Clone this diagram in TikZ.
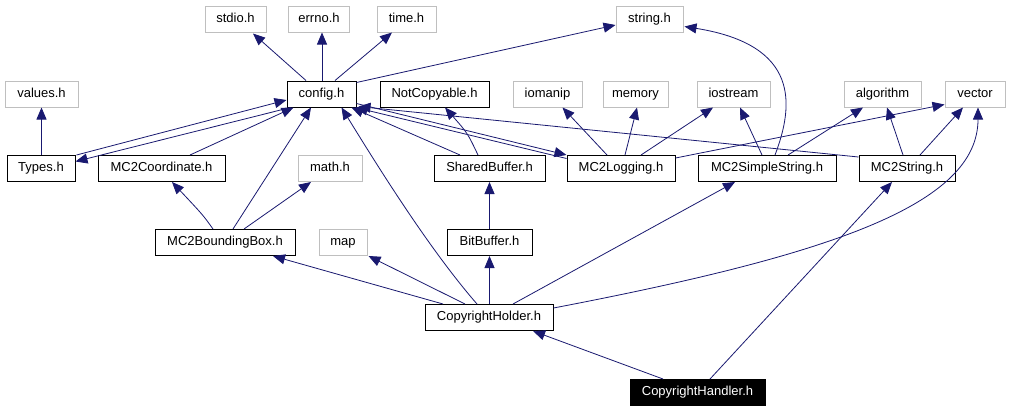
\documentclass[tikz,border=0pt]{standalone}
\usepackage{fontspec}
\setmainfont{Liberation Sans}
\usetikzlibrary{arrows.meta,calc}
\newdimen\px \px=0.75pt
\definecolor{edgec}{RGB}{25,25,112}
\definecolor{grayb}{RGB}{191,191,191}
\tikzset{
  box/.style={draw=black, line width=0.75pt, minimum height=26\px, inner sep=0pt,
    text height=7pt, text depth=2pt, font=\fontsize{9.75}{11}\selectfont},
  gbox/.style={box, draw=grayb},
  hbox/.style={box, fill=black, text=white},
  dep/.style={draw=edgec, line width=0.6pt, -{Triangle[length=9pt,width=7.5pt]}}
}
\begin{document}
\begin{tikzpicture}[x=0.75pt,y=-0.75pt]
\fill[white] (0,0) rectangle (1009,411);
\useasboundingbox (0,0) rectangle (1009,411);
% row 1
\node[gbox, minimum width=61\px] (stdio) at (235.5,19) {stdio.h};
\node[gbox, minimum width=61\px] (errno) at (319,19) {errno.h};
\node[gbox, minimum width=59\px] (time) at (406.5,19) {time.h};
\node[gbox, minimum width=67\px] (string) at (649.5,19) {string.h};
% row 2
\node[gbox, minimum width=73\px] (values) at (41.5,94) {values.h};
\node[box, minimum width=69\px] (config) at (321.5,94) {config.h};
\node[box, minimum width=109\px] (notcopy) at (434.5,94) {NotCopyable.h};
\node[gbox, minimum width=69\px] (iomanip) at (547.5,94) {iomanip};
\node[gbox, minimum width=65\px] (memory) at (635.5,94) {memory};
\node[gbox, minimum width=73\px] (iostream) at (733.5,94) {iostream};
\node[gbox, minimum width=77\px] (algorithm) at (882.5,94) {algorithm};
\node[gbox, minimum width=60\px] (vector) at (975,94) {vector};
% row 3
\node[box, minimum width=68\px] (types) at (41,168.5) {Types.h};
\node[box, minimum width=127\px] (coord) at (161.5,168.5) {MC2Coordinate.h};
\node[gbox, minimum width=64\px] (math) at (330,168.5) {math.h};
\node[box, minimum width=111\px] (shared) at (489.5,168.5) {SharedBuffer.h};
\node[box, minimum width=108\px] (logging) at (621,168.5) {MC2Logging.h};
\node[box, minimum width=138\px] (simple) at (767,168.5) {MC2SimpleString.h};
\node[box, minimum width=96\px] (mstring) at (907,168.5) {MC2String.h};
% row 4
\node[box, minimum width=140\px] (bbox) at (225,242.5) {MC2BoundingBox.h};
\node[gbox, minimum width=48\px] (map) at (343,242.5) {map};
\node[box, minimum width=85\px] (bitbuf) at (489.5,242.5) {BitBuffer.h};
% row 5
\node[box, minimum width=128\px] (holder) at (489,317.5) {CopyrightHolder.h};
% row 6
\node[hbox, minimum width=135\px] (handler) at (697.5,392.5) {CopyrightHandler.h};

% edges from config.h
\draw[dep] ($(config.north)+(-15.5,0)$) -- ($(stdio.south)+(17.5,1)$);
\draw[dep] ($(config.north)+(0.5,0)$) -- ($(errno.south)+(3,0)$);
\draw[dep] ($(config.north)+(13.5,0)$) -- ($(time.south)+(-14.5,0)$);
\draw[dep] ($(config.north east)+(0,2)$) -- ($(string.west)+(0,6)$);
\draw[dep] ($(config.south west)+(4,0)$) -- ($(types.east)+(0,-7)$);
\draw[dep] ($(config.south east)+(0,-4)$) -- ($(logging.north west)+(0,0)$);
% Types.h
\draw[dep] ($(types.north)+(0.5,0)$) -- (values.south);
\draw[dep] ($(types.north east)+(1,0)$) -- ($(config.west)+(0,6)$);
% MC2Coordinate.h
\draw[dep] ($(coord.north)+(28.5,0)$) -- ($(config.south west)+(7,0)$);
% MC2BoundingBox.h
\draw[dep] ($(bbox.north)+(-12,0)$) .. controls ($(bbox.north)+(-22,-14)$) .. ($(coord.south)+(10.5,0)$);
\draw[dep] ($(bbox.north)+(8,0)$) -- ($(config.south)+(-10.5,0)$);
\draw[dep] ($(bbox.north)+(19,0)$) -- ($(math.south)+(-19,0)$);
% SharedBuffer.h
\draw[dep] ($(shared.north)+(-29.5,0)$) -- ($(config.south east)+(-5,0)$);
\draw[dep] ($(shared.north)+(-11.5,0)$) .. controls ($(shared.north)+(-22,-22)$) .. ($(notcopy.south)+(10.5,0)$);
% MC2Logging.h
\draw[dep] ($(logging.west)+(0,-10)$) -- ($(config.south east)+(-1,0)$);
\draw[dep] ($(logging.north)+(-14,0)$) -- ($(iomanip.south)+(15,0)$);
\draw[dep] ($(logging.north)+(4,0)$) -- ($(memory.south)+(1.5,0)$);
\draw[dep] ($(logging.north)+(20,0)$) -- ($(iostream.south)+(-20.5,0)$);
\draw[dep] ($(logging.north east)+(0,3)$) -- ($(vector.south west)+(0,-3)$);
% MC2SimpleString.h
\draw[dep] ($(simple.north)+(-5,0)$) -- ($(iostream.south)+(6.5,0)$);
\draw[dep] ($(simple.north)+(8,0)$) .. controls (794,105) and (800,45) .. ($(string.south east)+(1,-6)$);
\draw[dep] ($(simple.north)+(21,0)$) -- ($(algorithm.south)+(-19.5,0)$);
% MC2String.h
\draw[dep] ($(mstring.north)+(-4,0)$) -- ($(algorithm.south)+(4.5,0)$);
\draw[dep] ($(mstring.north)+(13,0)$) -- ($(vector.south)+(-12,0)$);
\draw[dep] ($(mstring.north west)+(0,2)$) -- ($(config.south east)+(2,-1)$);
% BitBuffer.h
\draw[dep] (bitbuf.north) -- (shared.south);
% CopyrightHolder.h
\draw[dep] ($(holder.north)+(-46,0)$) -- ($(bbox.south)+(48,0)$);
\draw[dep] ($(holder.north)+(-24,0)$) -- ($(map.south east)+(1,0)$);
\draw[dep] ($(holder.north)+(-12,0)$) .. controls (430,250) and (380,170) .. ($(config.south)+(20,0)$);
\draw[dep] ($(holder.north)+(0.5,0)$) -- (bitbuf.south);
\draw[dep] ($(holder.north)+(24,0)$) -- ($(simple.south)+(-32,0)$);
\draw[dep] ($(holder.north east)+(0,4)$) .. controls (830,255) and (978,205) .. ($(vector.south)+(3,0)$);
% CopyrightHandler.h
\draw[dep] ($(handler.north)+(-34.5,0)$) -- ($(holder.south)+(44,0)$);
\draw[dep] ($(handler.north)+(12.5,0)$) -- ($(mstring.south)+(-15,0)$);
\end{tikzpicture}
\end{document}
